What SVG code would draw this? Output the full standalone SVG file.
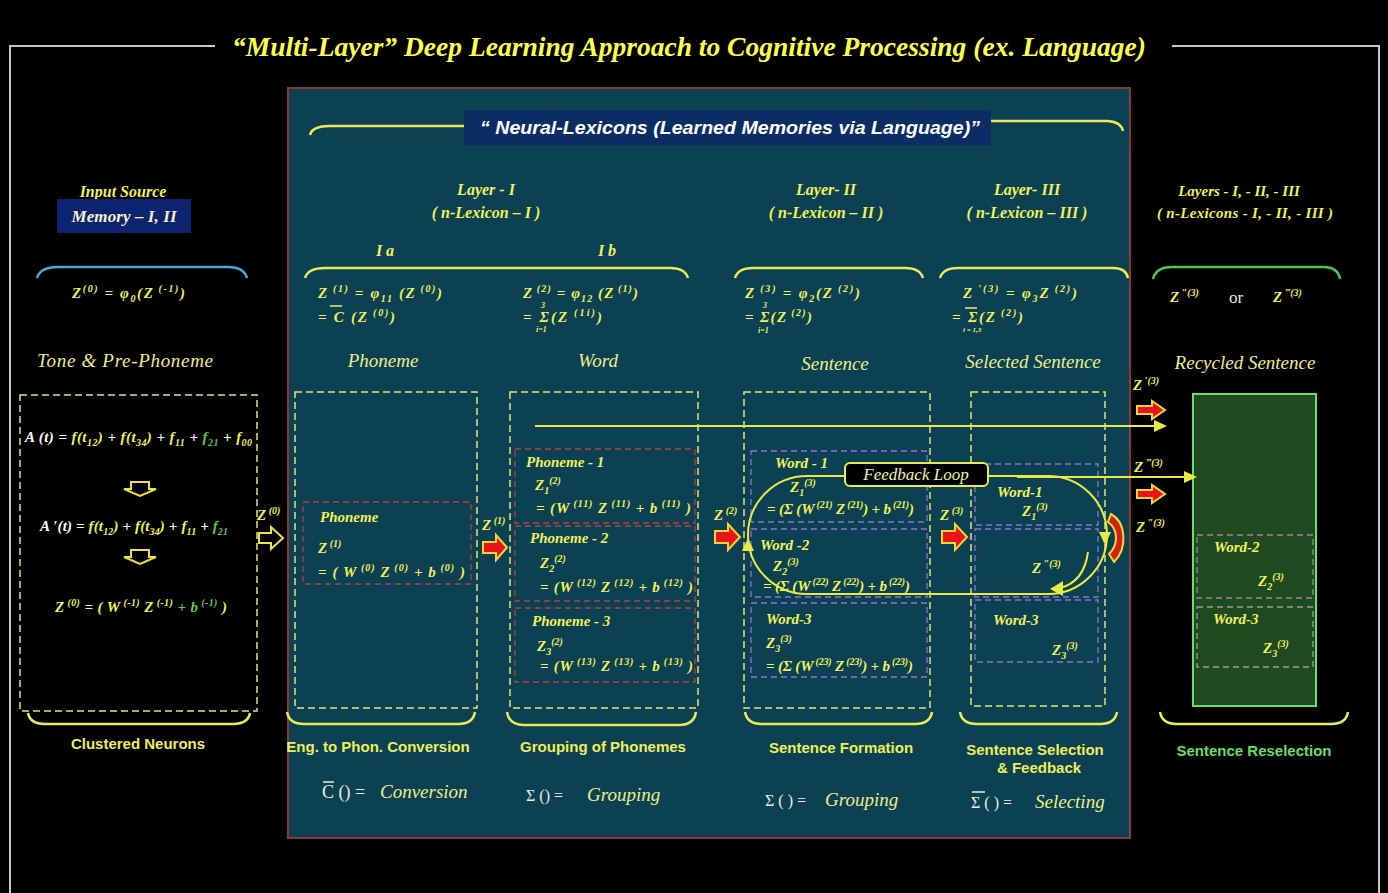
<svg xmlns="http://www.w3.org/2000/svg" width="1388" height="893" viewBox="0 0 1388 893">
<style>
text{font-family:"Liberation Serif","DejaVu Serif",serif;fill:#f2f25a}
.title{font-size:28px;font-weight:bold;font-style:italic;fill:#ffff4a}
.bi{font-size:16px;font-weight:bold;font-style:italic}
.m{font-size:15px;font-weight:bold;font-style:italic}
.it{font-size:19px;font-style:italic;fill:#eded8a}
.lab{font-family:"Liberation Sans",Arial,sans-serif;font-size:15px;font-weight:bold;fill:#eeee5a}
.sp{font-size:10px;baseline-shift:6px}
.sb{font-size:10px;baseline-shift:-4px}
.lim{font-size:8px;font-weight:bold;font-style:italic}
.w{fill:#ffffff}
.g{fill:#5bc84a}
.dash{fill:none;stroke:#e4e476;stroke-width:1.5;stroke-dasharray:7 4}
.rd{fill:none;stroke:#b3403c;stroke-width:1.3;stroke-dasharray:6 4}
.pd{fill:none;stroke:#8e72d0;stroke-width:1.3;stroke-dasharray:6 4}
.gd{fill:none;stroke:#a88090;stroke-width:1.3;stroke-dasharray:6 4}
.br{fill:none;stroke:#eaea5a;stroke-width:2.5}
.ln{fill:none;stroke:#eaea40;stroke-width:2}
.ra{fill:#e8141a;stroke:#f0d830;stroke-width:2}
.ha{fill:none;stroke:#f0e040;stroke-width:2}
.ah{fill:#eaea40}
</style>
<rect x="0" y="0" width="1388" height="893" fill="#000"/>
<g id="frame" fill="none" stroke="#c8c8b8" stroke-width="2">
<path d="M10,893 V46 H215"/>
<path d="M1172,46 H1379 V893"/>
</g>
<text class="title" x="689" y="56" text-anchor="middle" textLength="914" lengthAdjust="spacingAndGlyphs">“Multi-Layer”  Deep Learning Approach  to  Cognitive Processing (ex. Language)</text>

<g id="panel">
<rect x="288" y="88" width="842" height="750" fill="#0b4152" stroke="#8a3a2c" stroke-width="2"/>
<rect x="464" y="110" width="527" height="35" fill="#0b2d63"/>
<text x="480" y="134" textLength="500" lengthAdjust="spacingAndGlyphs" style="font-family:'Liberation Sans',Arial,sans-serif;font-size:19px;font-weight:bold;font-style:italic;fill:#ffffff">“ Neural-Lexicons  (Learned  Memories via Language)”</text>
<path class="br" d="M310,135 Q312,126 330,126 H464"/>
<path class="br" d="M991,121 H1108 Q1121,122 1123,131"/>
</g>

<g id="input-source">
<text class="bi" x="123" y="197" text-anchor="middle">Input Source</text>
<rect x="57" y="199" width="134" height="34" fill="#0b2370"/>
<text class="bi" x="124" y="222" text-anchor="middle" textLength="105" style="fill:#f4f4c8;font-size:17px">Memory – I, II</text>
<path d="M37,278 Q40,267 58,267 H228 Q244,267 247,278" fill="none" stroke="#4aa6dc" stroke-width="2.5"/>
<text class="m" x="72" y="298" textLength="113" lengthAdjust="spacing">Z<tspan class="sp">(0)</tspan>  = φ<tspan class="sb">0</tspan>(Z<tspan class="sp"> (-1)</tspan>)</text>
<text class="it" x="125" y="367" text-anchor="middle" textLength="176">Tone  &amp;  Pre-Phoneme</text>
</g>

<g id="clustered-neurons">
<rect class="dash" x="20" y="395" width="237" height="316"/>
<text class="m" x="25" y="442" textLength="227" lengthAdjust="spacing"><tspan class="w">A (t)  =  </tspan>f(t<tspan class="sb">12</tspan>)<tspan class="w"> + </tspan>f(t<tspan class="sb">34</tspan>)<tspan class="w"> + </tspan>f<tspan class="sb">11</tspan>  <tspan class="w">+ </tspan><tspan class="g">f<tspan class="sb">21</tspan></tspan><tspan class="w"> + </tspan>f<tspan class="sb">00</tspan></text>
<polygon class="ha" points="131,482 149,482 149,489 156,489 140,496 124,489 131,489"/>
<text class="m" x="40" y="531" textLength="188" lengthAdjust="spacing"><tspan class="w">A ′(t) = </tspan>f(t<tspan class="sb">12</tspan>)<tspan class="w"> + </tspan>f(t<tspan class="sb">34</tspan>)<tspan class="w"> + </tspan>f<tspan class="sb">11</tspan>  <tspan class="w">+ </tspan><tspan class="g">f<tspan class="sb">21</tspan></tspan></text>
<polygon class="ha" points="131,550 149,550 149,557 156,557 140,564 124,557 131,557"/>
<text class="m" x="55" y="612" textLength="172" lengthAdjust="spacing">Z<tspan class="sp"> (0)</tspan> = ( W<tspan class="sp"> (-1)</tspan> Z<tspan class="sp"> (-1)</tspan> <tspan class="g">+ b<tspan class="sp"> (-1)</tspan></tspan>  )</text>
<path class="br" d="M28,713 Q30,724 45,724 H233 Q248,724 250,713"/>
<text class="lab" x="138" y="749" text-anchor="middle">Clustered Neurons</text>
</g>

<g id="layer-1-header">
<text class="bi" x="486" y="195" text-anchor="middle">Layer - I</text>
<text class="bi" x="486" y="218" text-anchor="middle">( n-Lexicon – I )</text>
<text class="bi" x="385" y="256" text-anchor="middle">I a</text>
<text class="bi" x="607" y="256" text-anchor="middle">I b</text>
<path class="br" d="M305,278 Q308,268 325,268 H670 Q685,268 688,278"/>
</g>

<g id="layer-1a">
<text class="m" x="318" y="298" textLength="124" lengthAdjust="spacing">Z<tspan class="sp"> (1)</tspan>  = φ<tspan class="sb">11</tspan> (Z<tspan class="sp"> (0)</tspan>)</text>
<text class="m" x="318" y="322" textLength="77" lengthAdjust="spacing">= C (Z<tspan class="sp"> (0)</tspan>)</text>
<line x1="330" y1="306" x2="342" y2="306" stroke="#f2f25a" stroke-width="1.5"/>
<text class="it" x="383" y="367" text-anchor="middle">Phoneme</text>
<rect class="dash" x="295" y="392" width="182" height="316"/>
<rect class="rd" x="303" y="502" width="168" height="82"/>
<text class="m" x="320" y="522">Phoneme</text>
<text class="m" x="318" y="553">Z<tspan class="sp"> (1)</tspan></text>
<text class="m" x="318" y="577" textLength="147" lengthAdjust="spacing">= ( W<tspan class="sp"> (0)</tspan> Z<tspan class="sp"> (0)</tspan> + b<tspan class="sp"> (0)</tspan>  )</text>
<path class="br" d="M287,712 Q289,724 304,724 H458 Q473,724 475,712"/>
<text class="lab" x="378" y="752" text-anchor="middle">Eng. to  Phon. Conversion</text>
<text x="322" y="798" style="font-size:18px;fill:#e8f0e0">C () =</text>
<line x1="323" y1="782" x2="334" y2="782" stroke="#e8f0e0" stroke-width="1.5"/>
<text class="it" x="380" y="798">Conversion</text>
</g>

<g id="layer-1b">
<text class="m" x="523" y="298" textLength="115" lengthAdjust="spacing">Z<tspan class="sp"> (2)</tspan> = φ<tspan class="sb">12</tspan> (Z<tspan class="sp"> (1)</tspan>)</text>
<text class="m" x="523" y="322" textLength="79" lengthAdjust="spacing">= Σ(Z<tspan class="sp"> (1i)</tspan>)</text>
<text class="lim" x="541" y="308">3</text>
<text class="lim" x="536" y="332">i=1</text>
<text class="it" x="598" y="367" text-anchor="middle">Word</text>
<rect class="dash" x="510" y="392" width="188" height="316"/>
<rect class="rd" x="515" y="449" width="180" height="74"/>
<rect class="rd" x="515" y="526" width="180" height="75"/>
<rect class="rd" x="515" y="608" width="180" height="74"/>
<text class="m" x="526" y="467">Phoneme - 1</text>
<text class="m" x="535" y="490">Z<tspan class="sb">1</tspan><tspan class="sp">(2)</tspan></text>
<text class="m" x="536" y="513" textLength="155" lengthAdjust="spacing">= (W<tspan class="sp"> (11)</tspan> Z<tspan class="sp"> (11)</tspan> + b<tspan class="sp"> (11)</tspan>  )</text>
<text class="m" x="530" y="543">Phoneme - 2</text>
<text class="m" x="540" y="568">Z<tspan class="sb">2</tspan><tspan class="sp">(2)</tspan></text>
<text class="m" x="540" y="592" textLength="153" lengthAdjust="spacing">= (W<tspan class="sp"> (12)</tspan> Z<tspan class="sp"> (12)</tspan> + b<tspan class="sp"> (12)</tspan>  )</text>
<text class="m" x="532" y="626">Phoneme - 3</text>
<text class="m" x="537" y="651">Z<tspan class="sb">3</tspan><tspan class="sp">(2)</tspan></text>
<text class="m" x="540" y="671" textLength="153" lengthAdjust="spacing">= (W<tspan class="sp"> (13)</tspan> Z<tspan class="sp"> (13)</tspan> + b<tspan class="sp"> (13)</tspan>  )</text>
<path class="br" d="M507,712 Q509,725 524,725 H679 Q694,725 696,712"/>
<text class="lab" x="603" y="752" text-anchor="middle">Grouping of Phonemes</text>
<text x="526" y="801" style="font-size:16px;fill:#e8f0e0">Σ () =</text>
<text class="it" x="587" y="801">Grouping</text>
</g>

<g id="layer-2">
<text class="bi" x="826" y="195" text-anchor="middle">Layer- II</text>
<text class="bi" x="826" y="218" text-anchor="middle">( n-Lexicon – II )</text>
<path class="br" d="M735,278 Q738,268 753,268 H905 Q920,268 923,278"/>
<text class="m" x="745" y="298" textLength="115" lengthAdjust="spacing">Z<tspan class="sp"> (3)</tspan>  = φ<tspan class="sb">2</tspan>(Z<tspan class="sp"> (2)</tspan>)</text>
<text class="m" x="745" y="322" textLength="67" lengthAdjust="spacing">= Σ(Z<tspan class="sp"> (2)</tspan>)</text>
<text class="lim" x="763" y="308">3</text>
<text class="lim" x="758" y="333">i=1</text>
<text class="it" x="835" y="370" text-anchor="middle">Sentence</text>
<rect class="dash" x="744" y="392" width="186" height="316"/>
<rect class="pd" x="751" y="451" width="176" height="71"/>
<rect class="pd" x="751" y="529" width="176" height="68"/>
<rect class="pd" x="751" y="603" width="176" height="74"/>
<text class="m" x="775" y="468">Word - 1</text>
<text class="m" x="790" y="492">Z<tspan class="sb">1</tspan><tspan class="sp">(3)</tspan></text>
<text class="m" x="767" y="514" textLength="147" lengthAdjust="spacing">= (Σ (W<tspan class="sp"> (21)</tspan> Z<tspan class="sp"> (21)</tspan>) + b<tspan class="sp"> (21)</tspan>)</text>
<text class="m" x="760" y="550">Word -2</text>
<text class="m" x="773" y="571">Z<tspan class="sb">2</tspan><tspan class="sp">(3)</tspan></text>
<text class="m" x="763" y="591" textLength="147" lengthAdjust="spacing">= (Σ (W<tspan class="sp"> (22)</tspan> Z<tspan class="sp"> (22)</tspan>) + b<tspan class="sp"> (22)</tspan>)</text>
<text class="m" x="766" y="624">Word-3</text>
<text class="m" x="766" y="648">Z<tspan class="sb">3</tspan><tspan class="sp">(3)</tspan></text>
<text class="m" x="766" y="671" textLength="147" lengthAdjust="spacing">= (Σ (W<tspan class="sp"> (23)</tspan> Z<tspan class="sp"> (23)</tspan>) + b<tspan class="sp"> (23)</tspan>)</text>
<path class="br" d="M745,712 Q747,724 762,724 H915 Q930,724 932,712"/>
<text class="lab" x="841" y="753" text-anchor="middle">Sentence Formation</text>
<text x="765" y="806" style="font-size:16px;fill:#e8f0e0">Σ ( ) =</text>
<text class="it" x="825" y="806">Grouping</text>
</g>

<g id="layer-3">
<text class="bi" x="1027" y="195" text-anchor="middle">Layer- III</text>
<text class="bi" x="1027" y="218" text-anchor="middle">( n-Lexicon – III )</text>
<path class="br" d="M940,278 Q943,268 958,268 H1113 Q1126,268 1128,278"/>
<text class="m" x="963" y="298" textLength="114" lengthAdjust="spacing">Z<tspan class="sp"> ′(3)</tspan> = φ<tspan class="sb">3</tspan>Z<tspan class="sp"> (2)</tspan>)</text>
<text class="m" x="952" y="322" textLength="71" lengthAdjust="spacing">= Σ(Z<tspan class="sp"> (2)</tspan>)</text>
<line x1="965" y1="308" x2="977" y2="308" stroke="#f2f25a" stroke-width="1.5"/>
<text x="963" y="332" style="font-size:7px;font-weight:bold;font-style:italic">i = 1,3</text>
<text class="it" x="1033" y="368" text-anchor="middle">Selected  Sentence</text>
<rect class="dash" x="971" y="392" width="134" height="314"/>
<rect class="pd" x="975" y="464" width="123" height="61"/>
<rect class="pd" x="975" y="529" width="123" height="68"/>
<rect class="pd" x="975" y="600" width="123" height="62"/>
<text class="m" x="997" y="497">Word-1</text>
<text class="m" x="1022" y="516">Z<tspan class="sb">1</tspan><tspan class="sp">(3)</tspan></text>
<text class="m" x="993" y="625">Word-3</text>
<text class="m" x="1052" y="655">Z<tspan class="sb">3</tspan><tspan class="sp">(3)</tspan></text>
<path class="br" d="M960,712 Q962,724 977,724 H1100 Q1115,724 1117,712"/>
<text class="lab" x="1035" y="755" text-anchor="middle">Sentence Selection</text>
<text class="lab" x="1039" y="773" text-anchor="middle">&amp; Feedback</text>
<text x="971" y="808" style="font-size:16px;fill:#e8f0e0">Σ ( ) =</text>
<line x1="972" y1="792" x2="985" y2="792" stroke="#e8f0e0" stroke-width="1.5"/>
<text class="it" x="1035" y="808">Selecting</text>
</g>

<g id="recycled">
<text class="bi" x="1239" y="196" text-anchor="middle" style="font-size:15px">Layers - I, - II, - III</text>
<text class="bi" x="1245" y="218" text-anchor="middle" textLength="176" style="font-size:15px">( n-Lexicons  - I, - II, - III )</text>
<path d="M1153,279 Q1156,267 1172,267 H1323 Q1338,267 1340,279" fill="none" stroke="#4cc84c" stroke-width="2.5"/>
<text class="m" x="1170" y="302">Z<tspan class="sp"> ″(3)</tspan></text>
<text x="1229" y="303" style="font-size:17px;fill:#e8e8c8">or</text>
<text class="m" x="1273" y="302">Z<tspan class="sp"> ‴(3)</tspan></text>
<text class="it" x="1245" y="369" text-anchor="middle">Recycled  Sentence</text>
<rect x="1193" y="394" width="123" height="312" fill="#1f4a20" stroke="#66e066" stroke-width="2"/>
<rect class="gd" x="1197" y="535" width="116" height="63"/>
<rect class="gd" x="1197" y="607" width="116" height="60" style="stroke:#9aa090"/>
<text class="m" x="1214" y="552">Word-2</text>
<text class="m" x="1258" y="586">Z<tspan class="sb">2</tspan><tspan class="sp">(3)</tspan></text>
<text class="m" x="1213" y="624">Word-3</text>
<text class="m" x="1263" y="653">Z<tspan class="sb">3</tspan><tspan class="sp">(3)</tspan></text>
<path class="br" d="M1160,712 Q1162,724 1177,724 H1331 Q1346,724 1348,712"/>
<text class="lab" x="1254" y="756" text-anchor="middle" style="fill:#66dd66">Sentence  Reselection</text>
</g>

<g id="connectors">
<text class="m" x="257" y="520">Z<tspan class="sp"> (0)</tspan></text>
<polygon class="ha" points="259,533 271,533 271,527 283,538 271,549 271,543 259,543"/>
<text class="m" x="482" y="530">Z<tspan class="sp"> (1)</tspan></text>
<polygon class="ra" points="483,542 496,542 496,535 507,547.5 496,560 496,553 483,553"/>
<text class="m" x="714" y="520">Z<tspan class="sp"> (2)</tspan></text>
<polygon class="ra" points="715,531 728,531 728,524 740,537 728,550 728,543 715,543"/>
<text class="m" x="940" y="520">Z<tspan class="sp"> (3)</tspan></text>
<polygon class="ra" points="942,531 955,531 955,524 967,537 955,550 955,543 942,543"/>
<line class="ln" x1="535" y1="426" x2="1156" y2="426"/>
<polygon class="ah" points="1167,426 1154,420 1154,432"/>
<path class="ln" d="M807,476 H1048 A59,59 0 0 1 1048,594 H807 A59,59 0 0 1 807,476"/>
<polygon class="ah" points="1105,545 1099,532 1111,532"/>
<polygon class="ah" points="748,538 742,551 754,551"/>
<line class="ln" x1="1017" y1="477" x2="1186" y2="477"/>
<polygon class="ah" points="1197,477 1184,471 1184,483"/>
<path class="ln" d="M1088,552 Q1084,582 1060,588"/>
<polygon class="ah" points="1050,589 1063,581 1063,596"/>
<text class="m" x="1032" y="573">Z<tspan class="sp"> ″(3)</tspan></text>
<path d="M1111,514 C1126,522 1128,548 1114,562 L1109,554 C1118,545 1119,530 1108,522 Z" fill="#d0201a" stroke="#f0d830" stroke-width="2"/>
<g id="feedback-label">
<rect x="845" y="463" width="143" height="23" rx="5" fill="#000" stroke="#eaea50" stroke-width="2"/>
<text x="916" y="480" text-anchor="middle" style="font-size:17px;font-style:italic;fill:#f4f0b0">Feedback Loop</text>
</g>
<text class="m" x="1133" y="390">Z<tspan class="sp"> ′(3)</tspan></text>
<polygon class="ra" points="1137,406 1152,406 1152,401 1165,410 1152,419 1152,414 1137,414"/>
<text class="m" x="1134" y="472">Z<tspan class="sp"> ‴(3)</tspan></text>
<polygon class="ra" points="1137,490 1152,490 1152,485 1165,494 1152,503 1152,498 1137,498"/>
<text class="m" x="1136" y="532">Z<tspan class="sp"> ″(3)</tspan></text>
</g>
</svg>
